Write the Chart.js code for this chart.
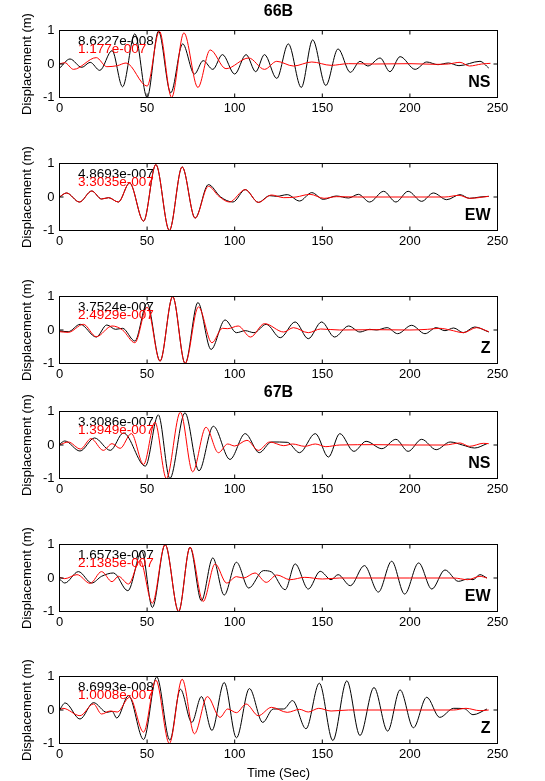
<!DOCTYPE html>
<html>
<head>
<meta charset="utf-8">
<script src="https://cdn.jsdelivr.net/npm/chart.js@4"></script>
<style>
  body { margin: 0; background: #fff; }
  #wrap { position: relative; width: 545px; height: 781px; overflow: hidden; }
  #wrap canvas { position: absolute; left: 0; }
</style>
</head>
<body>
<div id="wrap"></div>
<script>
// Station / component labels and peak amplitudes printed in each panel
const stationTitles = ['66B', '', '', '67B', '', ''];
const components = ['NS', 'EW', 'Z', 'NS', 'EW', 'Z'];
const blackAmps = ['8.6227e-008', '4.8693e-007', '3.7524e-007', '3.3086e-007', '1.6573e-007', '8.6993e-008'];
const redAmps = ['1.177e-007', '3.3035e-007', '2.4929e-007', '1.3949e-007', '2.1385e-007', '1.0008e-007'];

// Axis ticks
const timeTicks = [0, 50, 100, 150, 200, 250];
const dispTicks = [-1, 0, 1];

// Normalised displacement, [time (s), value] at the turning points of each trace
const b66NS = [[0,-0.13],[6,0.15],[12.7,-0.1],[17.5,0.05],[23,-0.19],[30,0.4],[36,-0.68],[43,0.9],[50,-1.0],[56.5,0.98],[63.5,-0.86],[70.3,0.6],[77,-0.3],[82,0.1],[87.5,-0.16],[93,0.28],[100,-0.3],[106.5,0.28],[112,-0.23],[117,0.28],[124,-0.43],[130.6,0.6],[138,-0.7],[144.5,0.72],[152,-0.64],[159,0.45],[166,-0.25],[171.5,0.08],[176,-0.06],[183,0.18],[188.6,-0.23],[194.4,0.22],[203,-0.16],[209.6,0.06],[216,-0.02],[222,0.03],[228,-0.05],[240,0.08],[245,-0.12]];
const r66NS = [[0,0.0],[3,0.04],[8,-0.16],[21,0.19],[27,-0.08],[33,-0.05],[38,0.03],[50,-0.66],[57,0.98],[64,-1.0],[71,0.93],[79,-0.7],[86,0.42],[95,-0.14],[108,0.18],[117,-0.16],[124,0.08],[133.5,-0.06],[144,0.06],[155,-0.04],[165,0.01],[180,0.0],[200,0.01],[215,-0.01],[222,0.0],[228.6,0.05],[234,-0.06],[241,0.0],[246,0.02]];

const b66EW = [[0,0.0],[4,0.12],[11.4,-0.15],[18.4,0.18],[24,-0.06],[28,-0.02],[33.6,-0.15],[40,0.42],[48,-0.72],[55,0.97],[62.7,-1.0],[70,0.9],[77.4,-0.63],[85,0.37],[92,0.0],[99,-0.15],[106,0.22],[113.5,-0.16],[120,0.04],[124,0.02],[130,0.07],[137,-0.12],[144,0.13],[150.6,-0.07],[158,0.03],[165,-0.03],[170.6,0.08],[177,-0.15],[185,0.17],[192,-0.15],[199,0.17],[206.7,-0.13],[213.4,0.12],[221,-0.08],[228.6,0.07],[234,-0.04],[240,0.0],[245,0.02]];
const r66EW = [[0,0.0],[4,0.12],[11.4,-0.15],[18.4,0.18],[24,-0.06],[28,-0.02],[33.6,-0.15],[40,0.42],[48,-0.72],[55,0.97],[62.7,-1.0],[70,0.9],[77.4,-0.63],[85,0.32],[91,0.02],[97,-0.15],[106,0.22],[113.5,-0.16],[121,0.06],[128,-0.02],[135,0.0],[143,0.08],[151,-0.04],[158,0.01],[170,0.0],[200,0.0],[220,0.0],[228,0.05],[234,-0.04],[245,0.02]];

const b66Z = [[0,-0.03],[5,-0.05],[11.8,0.17],[21,-0.21],[27,0.15],[32,0.02],[36,0.05],[43,-0.33],[50,0.8],[57.4,-0.93],[64.6,1.0],[71.7,-1.0],[79,0.82],[86.5,-0.58],[94.5,0.3],[101,-0.08],[106,-0.02],[111,-0.08],[118,0.17],[126,-0.23],[134.5,0.24],[142,-0.26],[149.6,0.24],[157,-0.21],[165,0.12],[171.5,-0.06],[177,0.02],[181,0.0],[187,0.07],[193,-0.11],[201,0.14],[208.6,-0.11],[215,0.07],[220,-0.02],[225,0.06],[230.5,-0.08],[237,0.09],[245,-0.06]];
const r66Z = [[0,-0.05],[5,-0.07],[13.6,0.17],[21,-0.2],[30,0.12],[36,0.0],[43,-0.38],[50,0.68],[57.4,-0.93],[64.6,1.0],[71.7,-1.0],[79.3,0.69],[87,-0.38],[93,0.05],[96,0.04],[102,0.12],[109,-0.21],[117,0.19],[128,-0.06],[133.5,0.07],[142,-0.08],[149,0.03],[160,0.0],[180,0.01],[200,0.0],[210,0.02],[217,0.05],[223,0.0],[230.5,-0.08],[238,0.07],[245,-0.05]];

const b67NS = [[0,0.02],[3,0.12],[11.7,-0.18],[20,0.21],[29,-0.16],[36.5,0.36],[49,-0.63],[56.4,0.9],[63,-1.0],[71.6,0.96],[79.6,-0.77],[87.8,0.56],[97.3,-0.43],[106,0.34],[114,-0.23],[121,0.09],[130,0.08],[137,-0.23],[146,0.34],[153.5,-0.36],[160,0.34],[168,-0.19],[175,0.11],[184,-0.11],[192,0.17],[199,-0.19],[206.7,0.17],[215,-0.14],[223,0.09],[230,0.0],[237,-0.09],[244,0.04]];
const r67NS = [[0,0.0],[5,0.09],[12,-0.12],[18,0.19],[25,-0.16],[30,0.04],[34.6,-0.1],[41,0.34],[48,-0.58],[54.5,0.68],[61,-1.0],[69,0.98],[76,-0.8],[83.6,0.53],[90.7,-0.23],[96,0.03],[100,-0.03],[107,0.14],[113.5,-0.16],[120,0.09],[128,-0.02],[133,0.03],[140,-0.04],[146,0.03],[152,-0.05],[160,0.0],[180,0.01],[200,0.0],[220,0.0],[228.6,0.06],[234,-0.04],[242,0.05],[245,0.04]];

const b67EW = [[0,-0.03],[3,-0.15],[10.8,0.19],[18.4,-0.15],[24,0.05],[30.8,0.15],[39,-0.38],[47,0.8],[53,-0.88],[60.3,1.0],[68,-1.0],[74.5,0.92],[81,-0.68],[87.5,0.6],[94,-0.51],[101,0.47],[108,-0.3],[116.4,0.22],[121,0.18],[128.8,-0.35],[134.5,0.42],[142,-0.33],[148.8,0.2],[155,-0.05],[159,0.1],[166,-0.23],[174,0.37],[182,-0.42],[189.6,0.5],[197,-0.48],[205,0.45],[212.5,-0.33],[220,0.24],[227.7,-0.1],[233,-0.03],[236,-0.05],[240,0.1],[244,0.0]];
const r67EW = [[0,0.02],[3,-0.02],[10,0.1],[17.5,-0.16],[24,0.19],[30,-0.11],[33.6,0.05],[39.4,-0.18],[46,0.52],[53,-0.75],[60.3,1.0],[68,-1.0],[74.5,0.92],[82,-0.7],[88.8,0.42],[95.4,-0.15],[101,0.04],[105,0.0],[111.6,0.15],[118,-0.13],[124,0.09],[131.6,-0.05],[140,0.02],[150,-0.03],[160,0.0],[200,0.0],[225,0.0],[233,-0.05],[240,0.05],[244,0.0]];

const b67Z = [[0,0.0],[3.2,0.21],[11.7,-0.27],[19.4,0.22],[27,-0.07],[30,-0.04],[32.7,-0.24],[39.4,0.43],[48,-0.88],[55.5,0.99],[63,-0.9],[69,0.62],[75.5,-0.37],[81,0.4],[87,-0.61],[94,0.82],[101,-0.83],[108.4,0.64],[116,-0.37],[122,0.03],[128,0.03],[133,0.28],[140.7,-0.56],[148.3,0.8],[156,-0.91],[164,0.87],[171.5,-0.76],[179.5,0.67],[187.3,-0.63],[194.4,0.6],[202,-0.53],[209.6,0.38],[217,-0.22],[225,0.05],[231,0.04],[236,-0.14],[244,0.03]];
const r67Z = [[0,0.0],[2,0.05],[11.7,-0.17],[19.4,0.18],[24,-0.12],[29,-0.03],[33,-0.06],[40,0.38],[48,-0.66],[55,0.89],[62.7,-1.0],[70,0.92],[77,-0.71],[84.4,0.4],[91.6,-0.22],[96,0.03],[101,-0.08],[106.5,0.18],[113.5,-0.17],[121,0.08],[130,-0.07],[137,0.02],[142,-0.06],[148,0.05],[155,-0.03],[165,0.0],[200,0.0],[225,0.0],[232,0.05],[240,-0.02],[245,0.0]];

const blackSeries = [b66NS, b66EW, b66Z, b67NS, b67EW, b67Z];
const redSeries = [r66NS, r66EW, r66Z, r67NS, r67EW, r67Z];

const FONT = '"Liberation Sans", Arial, Helvetica, sans-serif';
const W = 545;
const panelTops = [30, 163, 296, 411, 544, 676];
const PLOT_H = 67;
const TOP_PAD = 30;
const BOTTOM = 38;

// box, inward ticks, amplitude text, component tag and station title
const framePlugin = {
  id: 'frame',
  afterDatasetsDraw(chart, args, opts) {
    const {ctx, chartArea: a, scales: {x, y}} = chart;
    ctx.save();
    ctx.textBaseline = 'middle';

    ctx.font = '13.5px ' + FONT;
    ctx.textAlign = 'left';
    ctx.fillStyle = '#000';
    ctx.fillText(opts.black, x.getPixelForValue(10.5), y.getPixelForValue(0.69));
    ctx.fillStyle = '#f00';
    ctx.fillText(opts.red, x.getPixelForValue(10.5), y.getPixelForValue(0.45));

    ctx.font = 'bold 16px ' + FONT;
    ctx.textAlign = 'right';
    ctx.fillStyle = '#000';
    ctx.fillText(opts.comp, x.getPixelForValue(246), y.getPixelForValue(-0.55));

    ctx.strokeStyle = '#000';
    ctx.lineWidth = 1;
    ctx.strokeRect(a.left, a.top, a.right - a.left, a.bottom - a.top);
    ctx.beginPath();
    x.ticks.forEach(t => {
      const px = x.getPixelForValue(t.value);
      ctx.moveTo(px, a.bottom); ctx.lineTo(px, a.bottom - 4);
      ctx.moveTo(px, a.top); ctx.lineTo(px, a.top + 4);
    });
    y.ticks.forEach(t => {
      const py = y.getPixelForValue(t.value);
      ctx.moveTo(a.left, py); ctx.lineTo(a.left + 4, py);
      ctx.moveTo(a.right, py); ctx.lineTo(a.right - 4, py);
    });
    ctx.stroke();

    if (opts.title) {
      ctx.font = 'bold 16px ' + FONT;
      ctx.textAlign = 'center';
      ctx.fillText(opts.title, (a.left + a.right) / 2, a.top - 19);
    }
    ctx.restore();
  }
};

const wrap = document.getElementById('wrap');

panelTops.forEach((top, i) => {
  const last = i === panelTops.length - 1;
  const canvas = document.createElement('canvas');
  canvas.width = W;
  canvas.height = TOP_PAD + PLOT_H + BOTTOM;
  canvas.style.top = (top - TOP_PAD) + 'px';
  wrap.appendChild(canvas);

  new Chart(canvas.getContext('2d'), {
    type: 'line',
    data: {
      datasets: [
        {
          data: redSeries[i],
          borderColor: '#ff0000',
          borderWidth: 1,
          pointRadius: 0,
          cubicInterpolationMode: 'monotone',
          order: 0
        },
        {
          data: blackSeries[i],
          borderColor: '#000000',
          borderWidth: 1,
          pointRadius: 0,
          cubicInterpolationMode: 'monotone',
          order: 1
        }
      ]
    },
    options: {
      responsive: false,
      animation: false,
      devicePixelRatio: 1,
      layout: { padding: { top: TOP_PAD + 0.5, left: 0, right: 47.5, bottom: 0 } },
      plugins: {
        legend: { display: false },
        tooltip: { enabled: false },
        frame: { black: blackAmps[i], red: redAmps[i], comp: components[i], title: stationTitles[i] }
      },
      scales: {
        x: {
          type: 'linear',
          min: timeTicks[0],
          max: timeTicks[timeTicks.length - 1],
          afterBuildTicks: s => { s.ticks = timeTicks.map(v => ({ value: v })); },
          afterFit: s => { s.height = BOTTOM - 0.5; },
          grid: { display: false, drawTicks: false },
          border: { display: false },
          ticks: { color: '#000', font: { family: FONT, size: 13 }, padding: 3, maxRotation: 0, autoSkip: false },
          title: {
            display: last,
            text: 'Time (Sec)',
            color: '#000',
            font: { family: FONT, size: 13 },
            padding: { top: 0, bottom: 0 }
          }
        },
        y: {
          min: dispTicks[0],
          max: dispTicks[dispTicks.length - 1],
          afterBuildTicks: s => { s.ticks = dispTicks.map(v => ({ value: v })); },
          afterFit: s => { s.width = 59.5; },
          grid: { display: false, drawTicks: false },
          border: { display: false },
          ticks: { color: '#000', font: { family: FONT, size: 13 }, padding: 5 },
          title: {
            display: true,
            text: 'Displacement (m)',
            color: '#000',
            font: { family: FONT, size: 13 },
            padding: { top: 20, bottom: 0 }
          }
        }
      }
    },
    plugins: [framePlugin]
  });
});
</script>
</body>
</html>
